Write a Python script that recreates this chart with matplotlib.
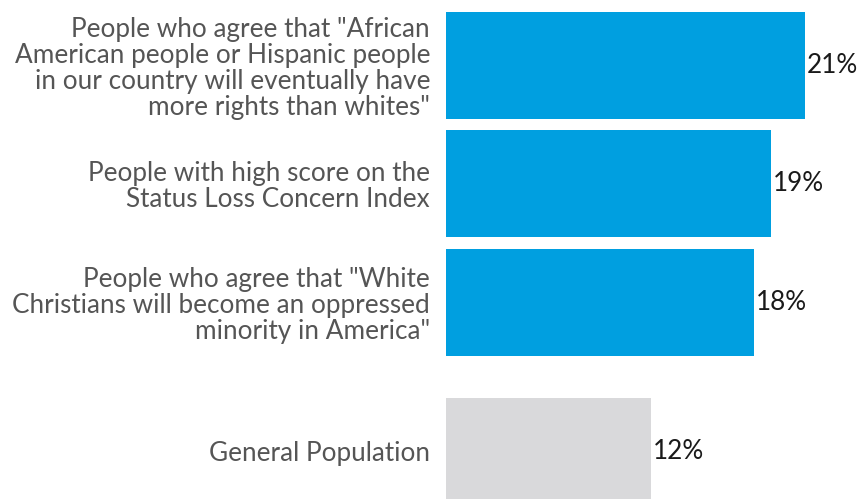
import matplotlib
matplotlib.use("Agg")
import matplotlib.pyplot as plt

categories = [
    'People who agree that "African\nAmerican people or Hispanic people\nin our country will eventually have\nmore rights than whites"',
    'People with high score on the\nStatus Loss Concern Index',
    'People who agree that "White\nChristians will become an oppressed\nminority in America"',
    'General Population',
]
values = [21, 19, 18, 12]
value_labels = ["21%", "19%", "18%", "12%"]

BLUE = "#009FE0"
GREY = "#D9D9DB"
bar_colors = [BLUE, BLUE, BLUE, GREY]

# vertical slots: the general population bar sits a little apart from the rest
positions = [0, 1, 2, 3.257]

plt.rcParams["font.family"] = ["Lato", "DejaVu Sans"]

fig = plt.figure(figsize=(8.6, 4.99), dpi=100)
ax = fig.add_axes([446 / 860, 0, 1 - 446 / 860, 1])

ax.barh(positions, values, height=0.9, color=bar_colors, edgecolor="none")

for y, v, lab in zip(positions, values, value_labels):
    ax.text(v + 0.1, y, lab, va="center", ha="left", fontsize=18.8, color="#1a1a1a")

ax.set_xlim(0, (860 - 446) / 17.1)
ax.set_ylim(3.66, -0.551)

ax.set_yticks(positions)
ax.set_yticklabels(categories, fontsize=18.8, color="#555555", linespacing=1.06)
ax.tick_params(axis="y", length=0, pad=11.5)
ax.set_xticks([])
for s in ax.spines.values():
    s.set_visible(False)

fig.savefig("out.png", dpi=100)
